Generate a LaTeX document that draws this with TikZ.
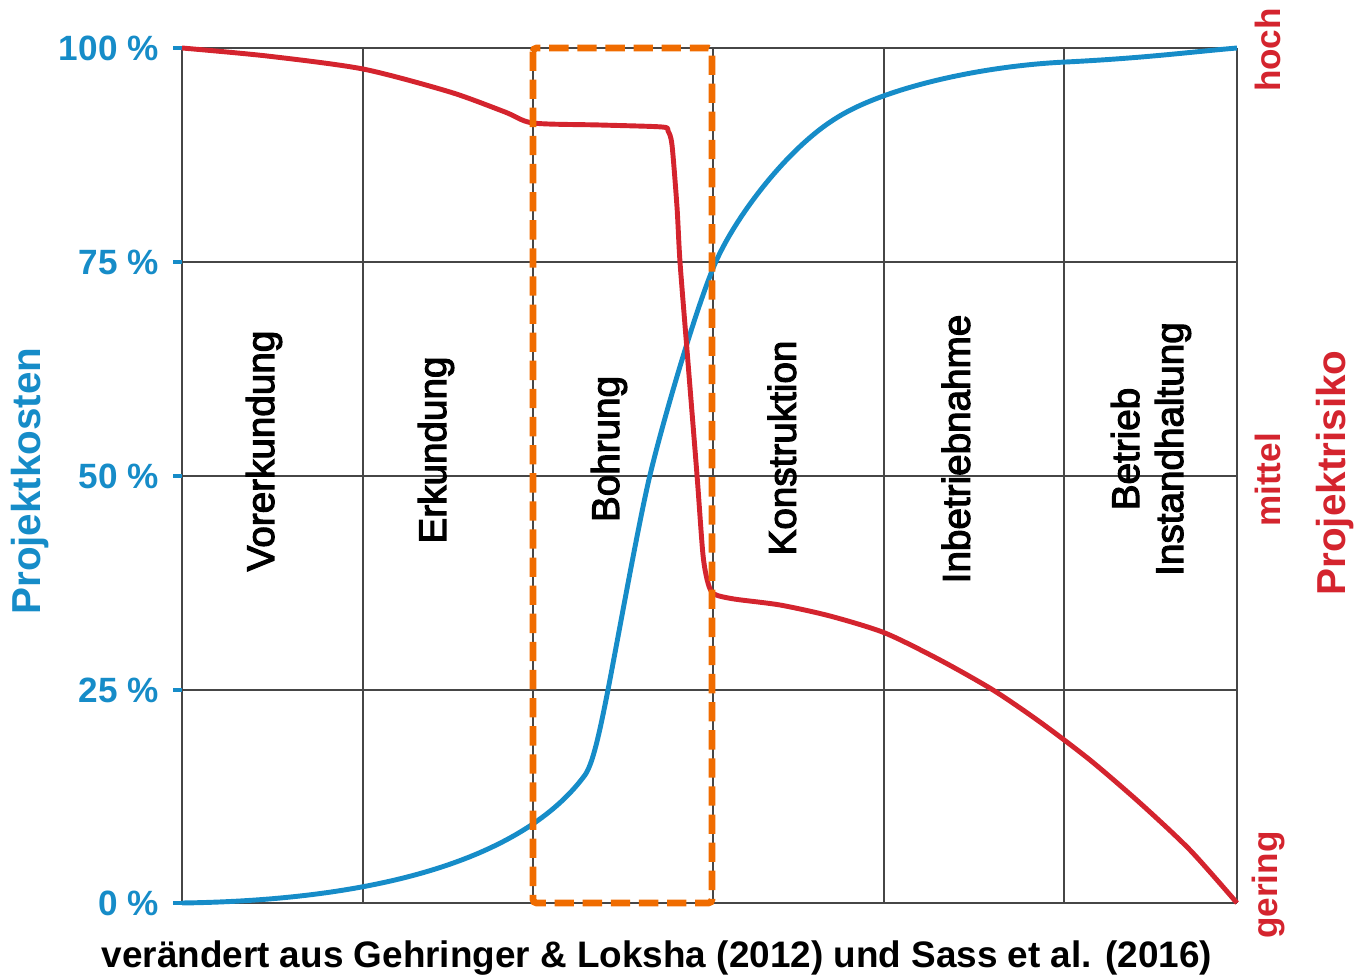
\documentclass[tikz,border=0pt]{standalone}
\usepackage{fontspec}
\setmainfont{Liberation Sans}
\newfontfamily\phasefont[FakeBold=3]{Liberation Sans}
\usetikzlibrary{positioning}
\definecolor{kostblue}{RGB}{22,140,200}
\definecolor{risikored}{RGB}{212,36,46}
\definecolor{bohrorange}{RGB}{240,108,0}
\definecolor{gridgray}{RGB}{70,70,70}
\tikzset{gridline/.style={ % thin grey lines of the chart
			draw=gridgray,
			line width=1.1pt},
	phase/.style={rotate=90, align=center, font=\phasefont\fontsize{22}{25}\selectfont},
	pct/.style={text=kostblue, inner sep=0pt, font=\fontsize{20}{24}\selectfont\bfseries},
	risk/.style={text=risikored, rotate=90, font=\fontsize{20}{24}\selectfont\bfseries},
	axistitle/.style={rotate=90, font=\fontsize{23}{27}\selectfont\bfseries},
	curve/.style={line width=2.8pt, line join=round}}

\begin{document}
\begin{tikzpicture}[x=0.02cm, y=-0.02cm]
			\useasboundingbox (0,0) rectangle (1357,976);
			% grid
			\foreach \x in {182,363,533,713,884,1064,1237}
				\draw[gridline] (\x,48) -- (\x,903);
			\foreach \y in {48,262,476,690,903}
				\draw[gridline] (182,\y) -- (1237,\y);
			% left axis ticks and labels
			\foreach \y/\p in {48/100,262/75,476/50,690/25,903/0} {
				\coordinate (t\p) at (173,\y);
				\draw[kostblue, line width=2.3pt] (t\p) -- (182,\y);
				\node [pct, left=8pt of t\p] (l\p) {\p\ \%};
			}
			% phases
			\node [phase] (V) at (264,451) {Vorerkundung};
			\node [phase] (E) at (436,450) {Erkundung};
			\node [phase] (B) at (609,449) {Bohrung};
			\node [phase] (K) at (782,448) {Konstruktion};
			\node [phase] (I) at (956,449) {Inbetriebnahme};
			\node [phase] (BI) at (1151,449) {Betrieb\\Instandhaltung};
			% cost curve
			\draw[kostblue, curve] (182,903) .. controls (400,900) and (530,850) .. (585,775)
				.. controls (592,765) and (598,740) .. (606,700)
				.. controls (615,655) and (638,525) .. (650,475)
				.. controls (662,425) and (694,314) .. (714,266)
				.. controls (734,218) and (788,147) .. (838,117)
				.. controls (885,88) and (980,66) .. (1066,62)
				.. controls (1146,58) and (1190,52) .. (1237,48);
			% risk curve
			\draw[risikored, curve, smooth, tension=0.45] plot coordinates {(182,48) (267,56) (363,69) (450,92) (505,112) (533,123) (600,125) (662,127) (668,131) (672,145) (677,207) (680,262) (687,350) (697,475) (703,555) (708,583) (714,594) (734,599) (780,605) (830,616) (885,633) (940,660) (993,690) (1040,722) (1090,760) (1140,803) (1190,850) (1237,903)};
			% drilling phase
			\draw[bohrorange, line width=3.8pt, dash pattern=on 11pt off 5pt, rounded corners=2pt] (533,48) rectangle (712,903);
			% axis titles
			\node [axistitle, text=kostblue] (PK) at (30,481) {Projektkosten};
			\node [axistitle, text=risikored] (PR) at (1335,473) {Projektrisiko};
			\node [risk] (hoch) at (1268,50) {hoch};
			\node [risk] (mittel) at (1268,480) {mittel};
			\node [risk] (gering) at (1268,885) {gering};
			\node (Q) at (657,958) {\fontsize{21}{25}\selectfont\bfseries verändert aus Gehringer \& Loksha (2012) und Sass et al. (2016)};
		\end{tikzpicture}
\end{document}
